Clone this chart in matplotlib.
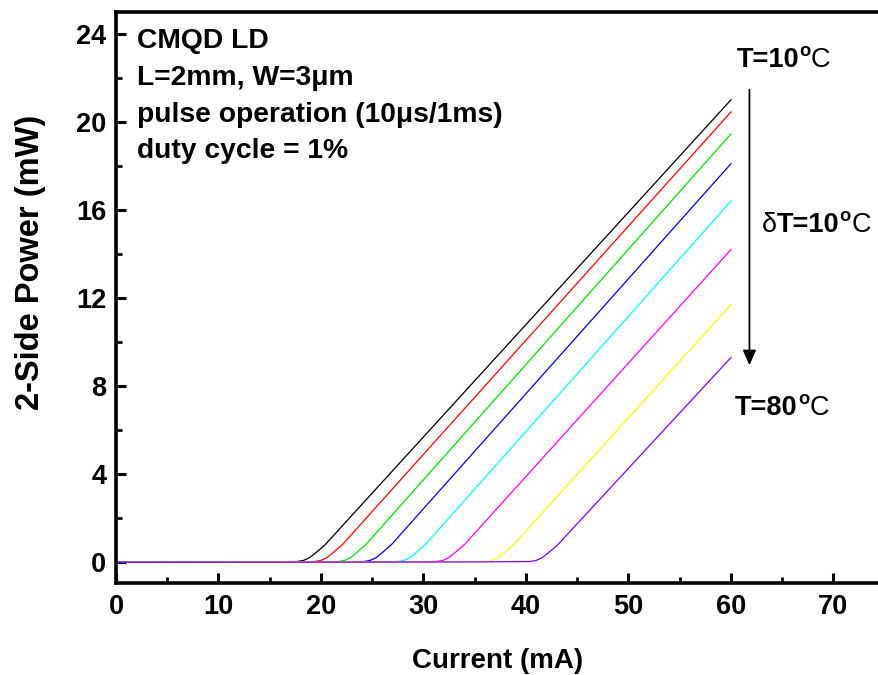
import matplotlib
matplotlib.use("Agg")
import matplotlib.pyplot as plt
from matplotlib.ticker import MultipleLocator

plt.rcParams['font.family'] = ['Liberation Sans', 'DejaVu Sans']

# ---- data (current in mA, power in mW) ----
temps = ["10", "20", "30", "40", "50", "60", "70", "80"]
colors = ["#000000", "#FF0000", "#00E000", "#0000FF", "#00FFFF", "#FF00FF", "#FFFF00", "#8000FF"]

cur_10 = [0, 14.0, 17.7, 18.3, 18.9, 19.5, 20.4, 60]
pow_10 = [0, 0.02, 0.04, 0.09, 0.22, 0.44, 0.80, 21.0]
cur_20 = [0, 16.0, 19.4, 20.0, 20.6, 21.2, 22.1, 60]
pow_20 = [0, 0.02, 0.04, 0.09, 0.22, 0.45, 0.81, 20.45]
cur_30 = [0, 18.0, 21.7, 22.3, 22.9, 23.5, 24.4, 60]
pow_30 = [0, 0.02, 0.04, 0.09, 0.22, 0.45, 0.82, 19.45]
cur_40 = [0, 20.0, 24.2, 24.8, 25.4, 26.0, 26.9, 60]
pow_40 = [0, 0.02, 0.04, 0.09, 0.22, 0.45, 0.82, 18.1]
cur_50 = [0, 23.0, 27.5, 28.1, 28.7, 29.3, 30.2, 60]
pow_50 = [0, 0.02, 0.04, 0.09, 0.22, 0.45, 0.82, 16.4]
cur_60 = [0, 27.0, 31.3, 31.9, 32.5, 33.1, 34.0, 60]
pow_60 = [0, 0.02, 0.04, 0.09, 0.22, 0.45, 0.81, 14.2]
cur_70 = [0, 31.0, 36.1, 36.7, 37.3, 37.9, 38.8, 60]
pow_70 = [0, 0.02, 0.04, 0.09, 0.22, 0.45, 0.81, 11.7]
cur_80 = [0, 35.0, 40.4, 41.0, 41.6, 42.2, 43.1, 60]
pow_80 = [0, 0.02, 0.04, 0.09, 0.22, 0.44, 0.80, 9.3]

currents = [cur_10, cur_20, cur_30, cur_40, cur_50, cur_60, cur_70, cur_80]
powers = [pow_10, pow_20, pow_30, pow_40, pow_50, pow_60, pow_70, pow_80]

info_lines = ["CMQD LD", "L=2mm, W=3\u03bcm", "pulse operation (10\u03bcs/1ms)", "duty cycle = 1%"]

fig = plt.figure(figsize=(8.79, 6.75), dpi=100)
ax = fig.add_axes([116 / 879, (675 - 583.3) / 675, 1 - 116 / 879, (583.3 - 11.7) / 675])

for c, p, col in zip(currents, powers, colors):
    ax.plot(c, p, color=col, lw=0.9, solid_joinstyle='round')

ax.set_xlim(0, 74.44)
ax.set_ylim(-0.95, 25.0)
ax.xaxis.set_major_locator(MultipleLocator(10))
ax.xaxis.set_minor_locator(MultipleLocator(5))
ax.yaxis.set_major_locator(MultipleLocator(4))
ax.yaxis.set_minor_locator(MultipleLocator(2))

for s in ['left', 'bottom', 'top']:
    ax.spines[s].set_linewidth(2.6)
ax.spines['right'].set_visible(False)

ax.tick_params(which='major', direction='in', length=7.5, width=2.2, labelsize=19.5)
ax.tick_params(which='minor', direction='in', length=4, width=2.0)
ax.tick_params(axis='x', which='major', pad=8)
ax.tick_params(axis='y', which='major', pad=7)
for lab in ax.get_xticklabels() + ax.get_yticklabels():
    lab.set_fontweight('bold')

ax.set_xlabel("Current (mA)", fontsize=20, fontweight='bold')
ax.xaxis.label.set_verticalalignment('baseline')
ax.xaxis.set_label_coords(0.5007, -0.1487)
ax.set_ylabel("2-Side Power (mW)", fontsize=23.5, fontweight='bold')
ax.yaxis.label.set_verticalalignment('center')
ax.yaxis.set_label_coords(-0.1127, 0.561)

# info block
info_y = [23.36, 21.65, 19.98, 18.34]
for txt, yy in zip(info_lines, info_y):
    ax.text(2.08, yy, txt, fontsize=20.3, fontweight='bold', va='baseline', ha='left')


def temp_label(x, y, prefix, main):
    fs = 19.5
    if prefix:
        t0 = ax.text(x, y, prefix, fontsize=fs, va='baseline', ha='left')
        t1 = ax.annotate(main, xy=(1, 0), xycoords=t0, fontsize=fs, fontweight='bold',
                         va='bottom', ha='left')
    else:
        t1 = ax.text(x, y, main, fontsize=fs, fontweight='bold', va='baseline', ha='left')
    t2 = ax.annotate("o", xy=(1, 1), xycoords=t1, xytext=(0.2, 3.0), textcoords='offset points',
                     fontsize=fs * 0.68, fontweight='bold', va='top', ha='left')
    ax.annotate("C", xy=(1, 0), xycoords=(t2, t1), xytext=(0.2, 0), textcoords='offset points',
                fontsize=fs, va='bottom', ha='left')


temp_label(60.55, 22.48, "", "T=10")
temp_label(63.0, 14.99, "\u03b4", "T=10")
temp_label(60.4, 6.68, "", "T=80")

ax.annotate("", xy=(61.8, 8.95), xytext=(61.8, 21.46),
            arrowprops=dict(arrowstyle='-|>,head_length=0.9,head_width=0.4', color='black', lw=1.3,
                            shrinkA=0, shrinkB=0))

fig.savefig("out.png", dpi=100)
